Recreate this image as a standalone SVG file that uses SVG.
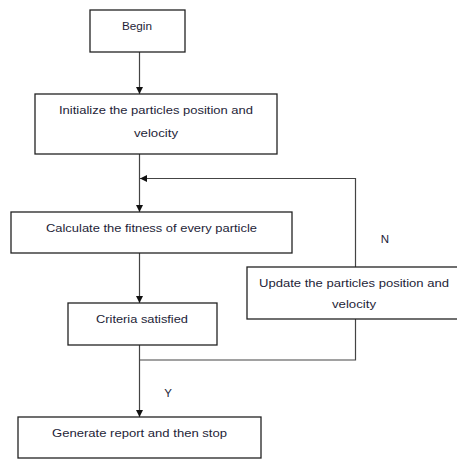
<svg xmlns="http://www.w3.org/2000/svg" width="457" height="459" viewBox="0 0 457 459">
  <style>
    .box { fill: #ffffff; stroke: #222222; stroke-width: 1.3; }
    .lbl { font-family: "Liberation Sans", Arial, sans-serif; font-size: 11.5px; fill: #1e1e38; text-anchor: middle; }
    .wire { fill: none; stroke: #444444; stroke-width: 1.2; }
  </style>
  <defs>
    <marker id="arrow" viewBox="0 0 10 10" refX="10" refY="5" markerWidth="7" markerHeight="7" orient="auto" markerUnits="userSpaceOnUse">
      <path d="M0,0 L10,5 L0,10 Z" fill="#111111"/>
    </marker>
  </defs>

  <rect width="457" height="459" fill="#ffffff"/>

  <g id="connectors">
    <line class="wire" x1="139.5" y1="52" x2="139.5" y2="94" marker-end="url(#arrow)"/>
    <line class="wire" x1="139.5" y1="154" x2="139.5" y2="212" marker-end="url(#arrow)"/>
    <line class="wire" x1="139.5" y1="253" x2="139.5" y2="303" marker-end="url(#arrow)"/>
    <line class="wire" x1="139.5" y1="345" x2="139.5" y2="417" marker-end="url(#arrow)"/>
    <polyline class="wire" points="355.5,267 355.5,178.5 140,178.5" marker-end="url(#arrow)"/>
    <polyline class="wire" points="355.5,319 355.5,360 139.5,360"/>
    <text class="lbl" x="385" y="243">N</text>
    <text class="lbl" x="168" y="397">Y</text>
  </g>

  <g id="begin">
    <rect class="box" x="90" y="10" width="95" height="42"/>
    <text class="lbl" x="137" y="30" textLength="30" lengthAdjust="spacingAndGlyphs">Begin</text>
  </g>

  <g id="initialize">
    <rect class="box" x="35" y="94" width="242" height="60"/>
    <text class="lbl" x="156" y="114" textLength="194" lengthAdjust="spacingAndGlyphs">Initialize the particles position and</text>
    <text class="lbl" x="156" y="137" textLength="44" lengthAdjust="spacingAndGlyphs">velocity</text>
  </g>

  <g id="calculate">
    <rect class="box" x="11" y="212" width="281" height="41"/>
    <text class="lbl" x="151.5" y="232" textLength="211" lengthAdjust="spacingAndGlyphs">Calculate the fitness of every particle</text>
  </g>

  <g id="criteria">
    <rect class="box" x="68" y="303" width="149" height="42"/>
    <text class="lbl" x="142" y="323" textLength="92" lengthAdjust="spacingAndGlyphs">Criteria satisfied</text>
  </g>

  <g id="update">
    <rect class="box" x="247" y="267" width="212" height="52"/>
    <text class="lbl" x="354" y="287" textLength="190" lengthAdjust="spacingAndGlyphs">Update the particles position and</text>
    <text class="lbl" x="354" y="308" textLength="44" lengthAdjust="spacingAndGlyphs">velocity</text>
  </g>

  <g id="generate">
    <rect class="box" x="18" y="417" width="243" height="41"/>
    <text class="lbl" x="139.5" y="437" textLength="175" lengthAdjust="spacingAndGlyphs">Generate report and then stop</text>
  </g>
</svg>
